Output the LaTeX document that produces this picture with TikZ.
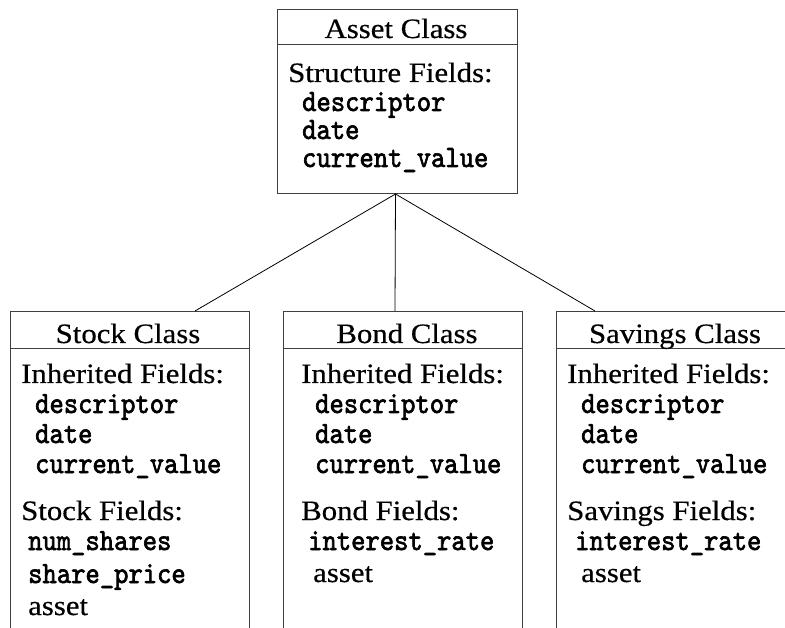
\documentclass[tikz,border=0pt]{standalone}
\usepackage{fontspec}
\setmainfont{Liberation Serif}[FakeStretch=1.1,FakeBold=0.5]
\newfontfamily\fieldfont{lmmono10-regular.otf}[FakeStretch=0.88,FakeBold=2]
\begin{document}
\begin{tikzpicture}[x=1pt,y=-1pt,
  classbox/.style={draw=black!75,line width=1pt,rectangle,inner sep=0pt,anchor=north west,minimum width=239pt},
  title/.style={anchor=base,inner sep=0pt,text height=19pt,text depth=2pt,font=\fontsize{28}{30}\selectfont},
  sect/.style={anchor=base west,inner sep=0pt,text height=19pt,text depth=3pt,font=\fontsize{28}{30}\selectfont},
  fld/.style={anchor=base west,inner sep=0pt,text height=16pt,text depth=4pt,font=\fieldfont\fontsize{31}{33}\selectfont},
  link/.style={draw=black,line width=0.8pt}]
\useasboundingbox (0,0) rectangle (785,628);
\begin{scope}
\clip (0,0) rectangle (785,628);
% boxes
\node[classbox,minimum width=240pt,minimum height=184pt] (asset) at (277,9) {};
\node[classbox,minimum height=400pt] (stock) at (10,311) {};
\node[classbox,minimum height=400pt] (bond) at (283,311) {};
\node[classbox,minimum height=400pt] (savings) at (556,311) {};
% header separators
\draw[draw=black!75,line width=1pt] ([yshift=-36pt]asset.north west) -- ([yshift=-36pt]asset.north east);
\draw[draw=black!75,line width=1pt] ([yshift=-38pt]stock.north west) -- ([yshift=-38pt]stock.north east);
\draw[draw=black!75,line width=1pt] ([yshift=-38pt]bond.north west) -- ([yshift=-38pt]bond.north east);
\draw[draw=black!75,line width=1pt] ([yshift=-38pt]savings.north west) -- ([yshift=-38pt]savings.north east);
% connectors
\coordinate (apex) at ([xshift=-2pt]asset.south);
\draw[link] (apex) -- ([xshift=185pt]stock.north west);
\draw[link] (apex) -- ([xshift=112pt]bond.north west);
\draw[link] (apex) -- ([xshift=39pt]savings.north west);
\end{scope}
% Asset
\node[title] (at) at (396,38) {Asset Class};
\node[sect] (as) at (288,82) {Structure Fields:};
\node[fld] (a1) at (302,111) {descriptor};
\node[fld] (a2) at (302,139) {date};
\node[fld] (a3) at (302,167) {current\_value};
% Stock
\node[title] (st) at (128,343) {Stock Class};
\node[sect] (si) at (21,383) {Inherited Fields:};
\node[fld] (s1) at (35,413) {descriptor};
\node[fld] (s2) at (35,443) {date};
\node[fld] (s3) at (35,473) {current\_value};
\node[sect] (sf) at (21,520) {Stock Fields:};
\node[fld] (s4) at (28,550) {num\_shares};
\node[fld] (s5) at (28,583) {share\_price};
\node[sect] (s6) at (28,615) {asset};
% Bond
\node[title] (bt) at (407,343) {Bond Class};
\node[sect] (bi) at (301,383) {Inherited Fields:};
\node[fld] (b1) at (315,413) {descriptor};
\node[fld] (b2) at (315,443) {date};
\node[fld] (b3) at (315,473) {current\_value};
\node[sect] (bf) at (301,520) {Bond Fields:};
\node[fld] (b4) at (308,550) {interest\_rate};
\node[sect] (b5) at (313,582) {asset};
% Savings
\node[title] (vt) at (675,343) {Savings Class};
\node[sect] (vi) at (567,383) {Inherited Fields:};
\node[fld] (v1) at (581,413) {descriptor};
\node[fld] (v2) at (581,443) {date};
\node[fld] (v3) at (581,473) {current\_value};
\node[sect] (vf) at (567,520) {Savings Fields:};
\node[fld] (v4) at (575,550) {interest\_rate};
\node[sect] (v5) at (581,582) {asset};
\end{tikzpicture}
\end{document}
